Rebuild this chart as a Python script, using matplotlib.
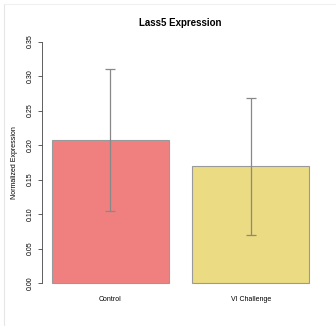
import matplotlib
matplotlib.use("Agg")
from matplotlib import pyplot as plt
from matplotlib.lines import Line2D

groups = ["Control", "VI Challenge"]
means = [0.207, 0.169]
errs = [0.103, 0.099]
colors = ["#F08080", "#EBDB82"]
yticks = [0.00, 0.05, 0.10, 0.15, 0.20, 0.25, 0.30, 0.35]

fig = plt.figure(figsize=(3.36, 3.26), dpi=100)
ax = fig.add_axes([0.124, 0.102, 0.827, 0.800])

xpos = [0.7, 1.9]
ax.bar(xpos, means, width=1.0, color=colors, edgecolor="#9a9a9a", linewidth=0.8)
ax.errorbar(xpos, means, yerr=errs, fmt="none", ecolor="#888888",
            elinewidth=0.9, capsize=3.5, capthick=0.9)

ax.set_xlim(0.112, 2.488)
ax.set_ylim(-0.014, 0.364)
ax.set_xticks(xpos)
ax.set_xticklabels(groups, fontsize=5, family="Liberation Sans")
ax.tick_params(axis="x", length=0, pad=2)
ax.set_yticks(yticks)
ax.set_yticklabels(["%.2f" % v for v in yticks], rotation=90, fontsize=5,
                   va="center", family="Liberation Sans")
ax.tick_params(axis="y", length=3, width=0.6, color="#444444", pad=3)
for s in ["top", "right", "bottom"]:
    ax.spines[s].set_visible(False)
ax.spines["left"].set_bounds(0, 0.35)
ax.spines["left"].set_linewidth(0.6)
ax.spines["left"].set_color("#444444")
ax.set_ylabel("Normalized Expression", fontsize=5, family="Liberation Sans", labelpad=6)
ax.set_title("Lass5 Expression", fontsize=7, fontweight="bold",
             family="Liberation Sans", pad=4)

# faint frame lines at top and left of the image
fig.add_artist(Line2D([4 / 336, 4 / 336], [0.0, 1 - 4 / 326], transform=fig.transFigure,
                      color="#e6e6e6", linewidth=0.8))
fig.add_artist(Line2D([4 / 336, 1.0], [1 - 4 / 326, 1 - 4 / 326], transform=fig.transFigure,
                      color="#f0f0f0", linewidth=0.8))

fig.savefig("out.png", dpi=100)
